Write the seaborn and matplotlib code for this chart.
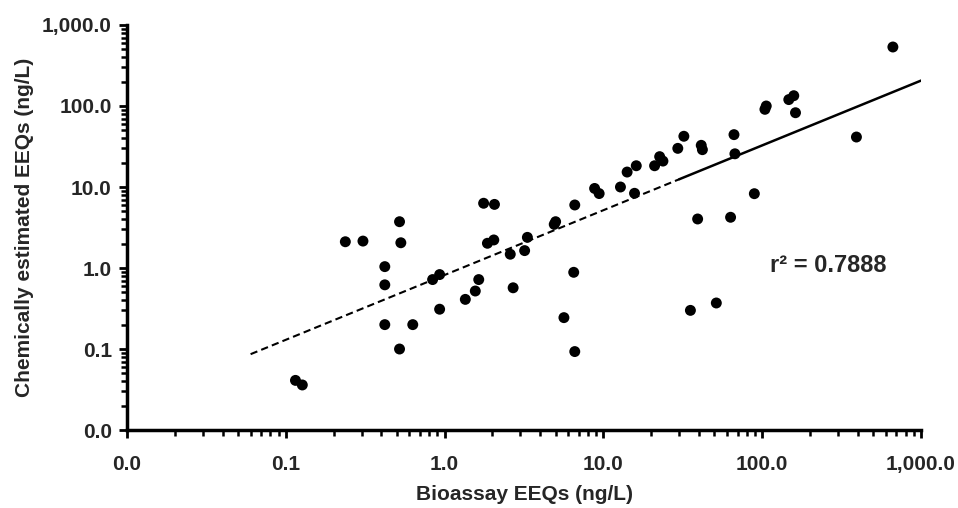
import numpy as np
import pandas as pd
import matplotlib
matplotlib.use("Agg")
import matplotlib.pyplot as plt
from matplotlib.ticker import FuncFormatter, LogLocator, NullFormatter
import seaborn as sns

# values (ng/L)
bioassay = [0.115, 0.127, 0.237, 0.306, 0.42, 0.42, 0.42, 0.52, 0.53, 0.52,
            0.63, 0.84, 0.93, 0.93, 1.35, 1.56, 1.64, 1.76, 2.06, 1.86,
            2.04, 2.59, 2.7, 3.19, 3.32, 5.0, 4.9, 6.6, 6.5, 5.64,
            6.6, 39.2, 63.2, 35.3, 51.4, 665, 392, 158, 147, 162,
            106, 104, 66.4, 67.3, 89.2, 32.1, 29.4, 41.3, 42.0, 21.0,
            22.6, 23.7, 16.1, 14.1, 12.8, 15.7, 8.8, 9.4]
chemical = [0.041, 0.036, 2.11, 2.15, 1.04, 0.62, 0.20, 3.73, 2.05, 0.10,
            0.20, 0.72, 0.83, 0.31, 0.41, 0.52, 0.72, 6.3, 6.1, 2.02,
            2.22, 1.48, 0.57, 1.64, 2.39, 3.73, 3.46, 6.0, 0.885, 0.244,
            0.093, 4.03, 4.23, 0.30, 0.37, 535, 41.4, 134, 120, 82.6,
            100, 91, 44.3, 25.7, 8.27, 42.3, 30.0, 32.7, 28.9, 18.3,
            23.7, 20.9, 18.3, 15.3, 10.0, 8.36, 9.6, 8.3]

# power-law trend line y = a * x^b, drawn dashed then solid
fit_a = 0.82
fit_b = 0.80
dash_range = [0.06, 30]
solid_range = [30, 1000]
r2_text = "r\u00b2 = 0.7888"

df = pd.DataFrame({"x": bioassay, "y": chemical})

sns.set_style("white")
plt.rcParams["font.family"] = ["Liberation Sans", "DejaVu Sans"]
plt.rcParams["font.weight"] = "bold"

fig = plt.figure(figsize=(9.58, 5.08), dpi=100)
ax = fig.add_axes([0.1326, 0.1535, 0.8288, 0.7973])

xd = np.geomspace(dash_range[0], dash_range[1], 50)
xs = np.geomspace(solid_range[0], solid_range[1], 50)
sns.lineplot(x=xd, y=fit_a * xd ** fit_b, ax=ax, color="black", lw=1.5,
             linestyle=(0, (3.5, 2)))
sns.lineplot(x=xs, y=fit_a * xs ** fit_b, ax=ax, color="black", lw=1.8)

sns.scatterplot(data=df, x="x", y="y", ax=ax, color="black", s=62,
                edgecolor="none", zorder=3)

ax.set_xscale("log")
ax.set_yscale("log")
ax.set_xlim(0.01, 1000)
ax.set_ylim(0.01, 1000)

fmt = FuncFormatter(lambda v, p: "{:,.1f}".format(v))
for axis in (ax.xaxis, ax.yaxis):
    axis.set_major_locator(LogLocator(base=10, numticks=10))
    axis.set_minor_locator(LogLocator(base=10, subs=np.arange(2, 10), numticks=10))
    axis.set_major_formatter(fmt)
    axis.set_minor_formatter(NullFormatter())

ax.tick_params(which="both", bottom=True, left=True, top=False, right=False)
ax.tick_params(which="major", direction="out", length=6, width=2,
               labelsize=15, color="black")
ax.tick_params(which="minor", direction="out", length=4, width=1.8, color="black")
ax.tick_params(axis="x", which="major", pad=12)
ax.tick_params(axis="y", which="major", pad=5)

sns.despine(ax=ax)
for side in ("left", "bottom"):
    ax.spines[side].set_linewidth(2.5)
    ax.spines[side].set_color("black")

ax.set_xlabel("Bioassay EEQs (ng/L)", fontsize=15, fontweight="bold", labelpad=8)
ax.set_ylabel("Chemically estimated EEQs (ng/L)", fontsize=15, fontweight="bold",
              labelpad=6)

ax.text(0.81, 0.405, r2_text, transform=ax.transAxes, fontsize=17,
        fontweight="bold", ha="left", va="center")

fig.savefig("out.png", dpi=100)
